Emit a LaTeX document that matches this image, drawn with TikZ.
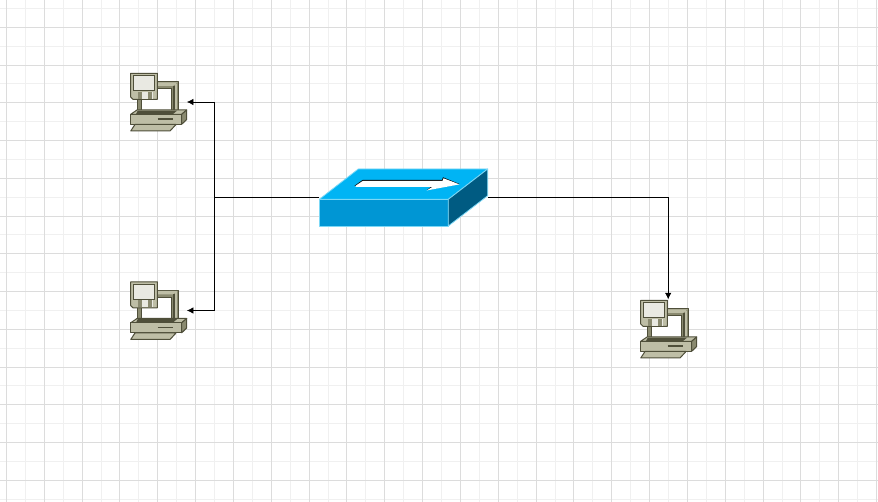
\documentclass[tikz,border=0pt]{standalone}
\usetikzlibrary{arrows.meta}
\definecolor{gridmaj}{HTML}{DCDCDC}
\definecolor{gridmin}{HTML}{F0F0F0}
\definecolor{swtop}{HTML}{00B4F4}
\definecolor{swfront}{HTML}{0096D4}
\definecolor{swside}{HTML}{005B82}
\definecolor{swedge}{HTML}{7CD8F6}
\definecolor{pcdark}{HTML}{4F4F3A}
\definecolor{pcmid}{HTML}{8A8A70}
\definecolor{pclight}{HTML}{BEBEA6}
\definecolor{pcpale}{HTML}{E9E9E2}
\tikzset{
  x=1pt,y=-1pt,
  pcline/.style={draw=pcdark,line width=1pt,line join=round},
  pcanchor/.style={inner sep=0pt,minimum width=57pt,minimum height=60pt},
  link/.style={draw=black,line width=0.7pt,-{Latex[length=6.5pt,width=6.5pt]}},
  pics/computer/.style={code={
    % monitor body
    \fill[pcmid,pcline] (7.7,9.7) -- (48.3,9.7) -- (48.3,42) -- (7.7,42) -- cycle;
    \fill[pclight] (27,10.5) -- (47.5,10.5) -- (43,14) -- (27,14) -- cycle;
    \fill[pcdark] (42.5,14) -- (44.5,14) -- (44.5,40) -- (42.5,40) -- cycle;
    \fill[pclight] (45.2,12) -- (46.7,12) -- (46.7,40) -- (45.2,40) -- cycle;
    % screen
    \fill[white,draw=pcdark,line width=0.8pt] (11.7,16.5) -- (41.7,16.5) -- (41.7,38.7) -- (11.7,38.7) -- cycle;
    % base
    \fill[pclight,pcline] (0.7,42.3) -- (7,38) -- (56.7,38) -- (51.7,42.3) -- cycle;
    \fill[pclight,pcline] (0.7,42.3) -- (51.7,42.3) -- (51.7,52.3) -- (0.7,52.3) -- cycle;
    \fill[pcmid,pcline] (51.7,42.3) -- (56.7,38) -- (56.7,47.5) -- (51.7,52.3) -- cycle;
    \draw[pcdark,line width=1.1pt] (27.5,47) -- (43,47);
    % monitor foot over base
    \fill[pcdark] (7.7,38.7) -- (47,38.7) -- (43,42) -- (6,42) -- cycle;
    % keyboard
    \fill[pclight,pcline] (0.7,59) -- (5,52.5) -- (46,52.5) -- (40,59) -- cycle;
    % floppy
    \fill[pclight,pcline] (0.7,1.3) -- (27.3,1.3) -- (27.3,27.3) -- (3,27.3) -- (0.7,25) -- cycle;
    \fill[pcpale,draw=pcdark,line width=0.7pt] (3.3,3.5) -- (24.5,3.5) -- (24.5,18.7) -- (3.3,18.7) -- cycle;
    \fill[pcpale] (8.3,19.7) -- (23.3,19.7) -- (23.3,27) -- (8.3,27) -- cycle;
    \fill[pcmid] (8.3,19.7) -- (12.3,19.7) -- (12.3,27) -- (8.3,27) -- cycle;
    \fill[pcmid] (18.3,19.7) -- (22.3,19.7) -- (22.3,27) -- (18.3,27) -- cycle;
  }}
}
\begin{document}
\begin{tikzpicture}
\useasboundingbox (0,0) rectangle (878,502);
\fill[white] (0,0) rectangle (878,502);
% grid: minor
\foreach \i in {0,...,46} {\pgfmathsetmacro{\gx}{floor(6.5+18.915*\i)+0.5}
  \draw[gridmin,line width=1pt] (\gx,0) -- (\gx,502);}
\foreach \j in {0,...,26} {\pgfmathsetmacro{\gy}{floor(8.4+18.875*\j)+0.5}
  \draw[gridmin,line width=1pt] (0,\gy) -- (878,\gy);}
% grid: major
\foreach \i in {0,...,23} {\pgfmathsetmacro{\gx}{floor(6.5+37.83*\i)+0.5}
  \draw[gridmaj,line width=1pt] (\gx,0) -- (\gx,502);}
\foreach \j in {0,...,12} {\pgfmathsetmacro{\gy}{floor(27.3+37.75*\j)+0.5}
  \draw[gridmaj,line width=1pt] (0,\gy) -- (878,\gy);}
% switch
\node[inner sep=0pt,minimum width=168.7pt,minimum height=57pt] (sw) at (403.4,197.5) {};
\fill[swtop,draw=swedge,line width=0.8pt,line join=round] (319.3,199.3) -- (358.3,169) -- (487.7,169) -- (448.3,199.3) -- cycle;
\fill[swfront,draw=swedge,line width=0.8pt,line join=round] (319.3,199.3) -- (448.3,199.3) -- (448.3,226) -- (319.3,226) -- cycle;
\fill[swside,draw=swedge,line width=0.8pt,line join=round] (448.3,199.3) -- (487.7,169) -- (487.7,195.7) -- (448.3,226) -- cycle;
\fill[black] (354.5,185.8) -- (362.5,180) -- (442,180) -- (443,177.3) -- (459.5,184) -- (427,190) -- (432,186) -- cycle;
\fill[white] (355.5,185.8) -- (362.8,180.9) -- (442.5,180.9) -- (443.5,178.3) -- (459.5,184.4) -- (426.5,190.5) -- (432.5,186.8) -- (355.5,186.8) -- cycle;
% computers
\node[pcanchor] (pc1) at (158.2,102) {};
\node[pcanchor] (pc2) at (158.2,310.5) {};
\node[pcanchor] (pc3) at (668.2,329.5) {};
\pic at (130,72) {computer};
\pic at (130,280.5) {computer};
\pic at (640,299) {computer};
% connectors
\coordinate (hub) at (214.5,197.5);
\draw[draw=black,line width=0.7pt] (sw.west) -- (hub);
\draw[link] (hub) |- (pc1.east);
\draw[link] (hub) |- (pc2.east);
\draw[link] (sw.east) -| (pc3.north);
\end{tikzpicture}
\end{document}
